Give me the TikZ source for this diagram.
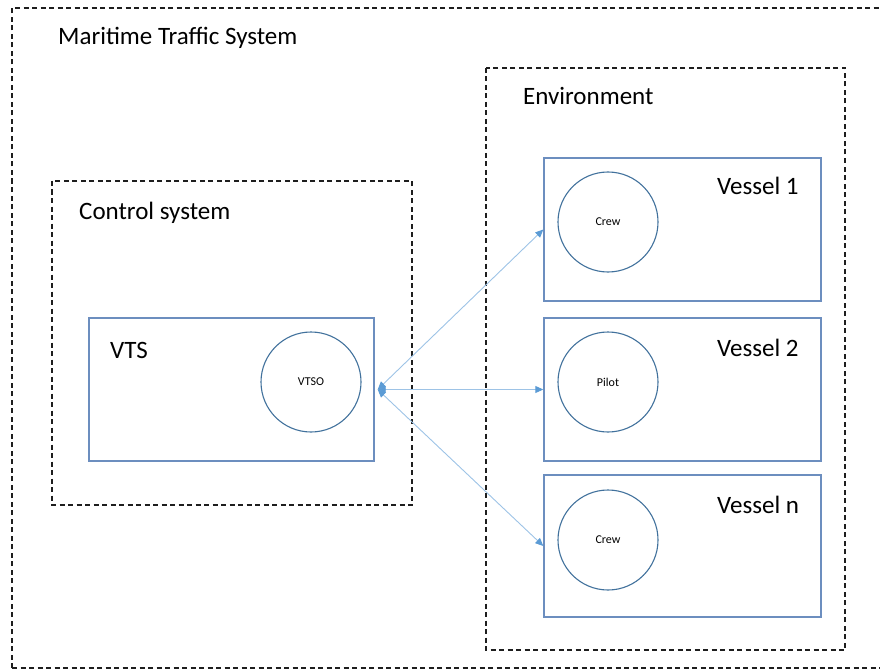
\documentclass[tikz,border=0pt]{standalone}
\usepackage{fontspec}
\setmainfont{Carlito}
\usetikzlibrary{positioning}
\usetikzlibrary{calc}
\usetikzlibrary{arrows.meta}
\definecolor{boxblue}{RGB}{108,142,191}
\definecolor{circblue}{RGB}{65,113,156}
\definecolor{linkblue}{RGB}{157,195,230}
\definecolor{headblue}{RGB}{91,155,213}
\definecolor{dashgray}{RGB}{30,30,30}

\begin{document}
\begin{tikzpicture}[x=1pt,y=-1pt,
	bigtext/.style={font=\fontsize{25}{29}\selectfont, anchor=base west, inner sep=0pt},
	smalltext/.style={font=\fontsize{12}{14}\selectfont},
	sysbox/.style={draw=dashgray, line width=1.2pt, dash pattern=on 5pt off 3.5pt},
	partbox/.style={draw=boxblue, line width=1.4pt, rectangle, inner sep=0pt},
	agent/.style={draw=circblue, line width=1.1pt, circle, minimum size=100pt, inner sep=0pt, smalltext},
	link/.style={draw=linkblue, line width=0.9pt, {Triangle[color=headblue,length=8pt,width=7pt]}-{Triangle[color=headblue,length=8pt,width=7pt]}}]
			\useasboundingbox (0,0) rectangle (880,671);

			% Maritime traffic system
			\draw[sysbox] (12,668) -- (12,8) -- (885,8);
			\draw[sysbox] (12,668) -- (885,668);
			\node[bigtext] (mts) at (58,45) {Maritime Traffic System};

			% Control system
			\draw[sysbox] (52,181) rectangle (412,505);
			\node[bigtext] (ctrl) at (79,219) {Control system};

			% VTS
			\node[partbox, minimum width=285pt, minimum height=143pt] (vts) at (231.5,389.5) {};
			\node[bigtext] (vtslabel) at (110,358) {VTS};
			\node[agent] (vtso) at (311,382) {VTSO};

			% Environment
			\draw[sysbox] (486,68) rectangle (845,650);
			\node[bigtext] (env) at (523,105) {Environment};

			% Vessels
			\node[partbox, minimum width=277pt, minimum height=143pt] (ves1) at (682.5,229.5) {};
			\node[partbox, minimum width=277pt, minimum height=143pt] (ves2) at (682.5,389.5) {};
			\node[partbox, minimum width=277pt, minimum height=142pt] (vesn) at (682.5,546) {};
			\node[bigtext] (ves1label) at (717,194) {Vessel 1};
			\node[bigtext] (ves2label) at (717,356) {Vessel 2};
			\node[bigtext] (vesnlabel) at (717,513) {Vessel n};
			\node[agent] (crew1) at (608,222) {Crew};
			\node[agent] (pilot) at (608,382) {Pilot};
			\node[agent] (crewn) at (608,540) {Crew};

			% Communication
			\draw[link] ($(vts.east)+(3,0)$) -- (ves1.west);
			\draw[link] ($(vts.east)+(3,0)$) -- (ves2.west);
			\draw[link] ($(vts.east)+(3,0)$) -- (vesn.west);
		\end{tikzpicture}
\end{document}
